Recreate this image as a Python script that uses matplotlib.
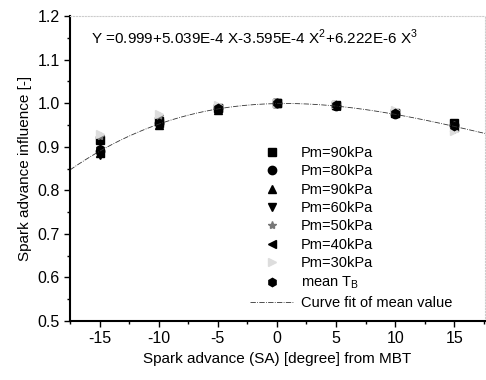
import matplotlib
matplotlib.use('Agg')
import matplotlib.pyplot as plt
import numpy as np

plt.rcParams['font.family'] = ['Liberation Sans', 'DejaVu Sans']
plt.rcParams['axes.unicode_minus'] = False

# spark advance from MBT (degree)
sa = [-15, -10, -5, 0, 5, 10, 15]

pm90a = [0.915, 0.960, 0.990, 1.000, 0.995, 0.978, 0.955]
pm80 = [0.890, 0.955, 0.988, 1.000, 0.993, 0.975, 0.950]
pm90b = [0.885, 0.950, 0.985, 1.000, 0.995, 0.980, 0.945]
pm60 = [0.880, 0.950, 0.987, 1.000, 0.993, 0.975, 0.940]
pm50 = [0.925, 0.970, 0.992, 1.000, 0.995, 0.980, 0.950]
pm40 = [0.885, 0.955, 0.990, 1.000, 0.993, 0.978, 0.945]
pm30 = [0.930, 0.975, 0.995, 1.000, 0.997, 0.985, 0.935]
meanTB = [0.895, 0.955, 0.988, 1.000, 0.995, 0.978, 0.948]

# fit coefficients as printed on the chart (X^3, X^2, X, 1)
fitCoef = [6.222e-6, -3.595e-4, 5.039e-4, 0.999]

fig = plt.figure(figsize=(4.86, 3.80), dpi=100)
ax = fig.add_axes([70/486, 1 - 321/380, 415/486, 305/380])

series = [
    (pm90a, 's', 'black', 'Pm=90kPa'),
    (pm80, 'o', 'black', 'Pm=80kPa'),
    (pm90b, '^', 'black', 'Pm=90kPa'),
    (pm60, 'v', 'black', 'Pm=60kPa'),
    (pm50, '*', '#777777', 'Pm=50kPa'),
    (pm40, '<', 'black', 'Pm=40kPa'),
    (pm30, '>', '#dddddd', 'Pm=30kPa'),
    (meanTB, 'h', 'black', 'mean T$_\\mathregular{B}$'),
]
for vals, mk, col, lab in series:
    ax.plot(sa, vals, linestyle='none', marker=mk, color=col, markersize=6, label=lab)

xFit = np.linspace(-17.5, 17.6, 200)
ax.plot(xFit, np.polyval(fitCoef, xFit), color='#333333', linestyle='-.', linewidth=0.6,
        label='Curve fit of mean value')

ax.text(-15.7, 1.15, 'Y =0.999+5.039E-4 X-3.595E-4 X$^\\mathregular{2}$+6.222E-6 X$^\\mathregular{3}$',
        fontsize=11, va='center')

ax.set_xlim(-17.5, 17.6)
ax.set_ylim(0.5, 1.2)
ax.set_xticks([-15, -10, -5, 0, 5, 10, 15])
ax.set_xticks(np.arange(-17.5, 17.6, 2.5), minor=True)
ax.set_yticks(np.arange(0.5, 1.21, 0.1))
ax.set_yticklabels(['0.5', '0.6', '0.7', '0.8', '0.9', '1.0', '1.1', '1.2'])
ax.set_yticks(np.arange(0.55, 1.2, 0.1), minor=True)
ax.tick_params(which='both', direction='out', labelsize=11.5, width=1)
ax.tick_params(which='major', length=4)
ax.tick_params(which='minor', length=2.5)

for s in ['left', 'bottom']:
    ax.spines[s].set_linewidth(1.5)
for s in ['top', 'right']:
    ax.spines[s].set_color('#cccccc')
    ax.spines[s].set_linestyle(':')
    ax.spines[s].set_linewidth(0.8)

ax.set_xlabel('Spark advance (SA) [degree] from MBT', fontsize=11)
ax.set_ylabel('Spark advance influence [-]', fontsize=11)

ax.legend(loc='upper left', bbox_to_anchor=((250 - 70) / 415, (321 - 146) / 305),
          frameon=False, fontsize=10.5, borderpad=0, handlelength=3.0,
          handletextpad=0.5, labelspacing=0.3, borderaxespad=0)

fig.savefig('out.png', dpi=100)
